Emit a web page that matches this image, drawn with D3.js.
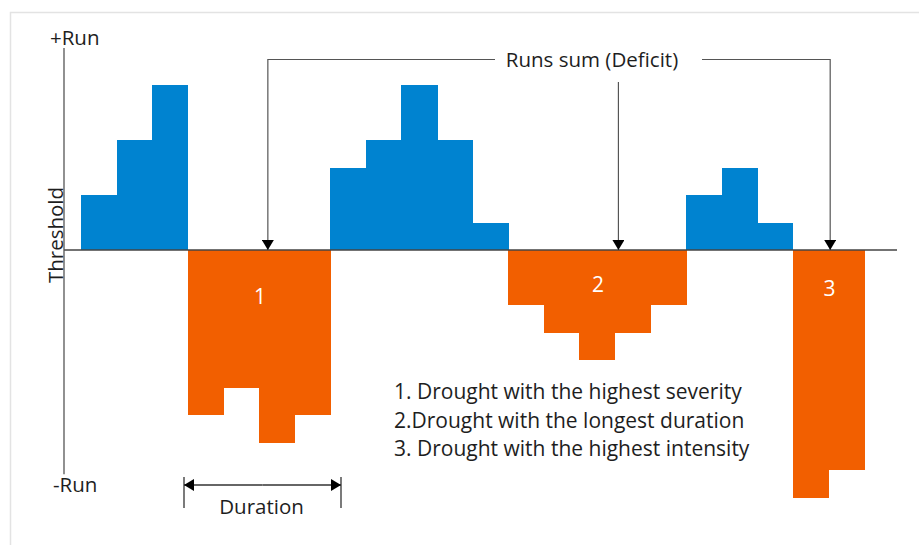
<!DOCTYPE html>
<html>
<head>
<meta charset="utf-8">
<script src="https://cdn.jsdelivr.net/npm/d3@7"></script>
<style>
  body { margin: 0; background: #fff; }
  text { font-family: "Open Sans", sans-serif; }
</style>
</head>
<body>
<script>
// run values, one per time step (in threshold units)
var values = [2, 4, 6, -6, -5, -7, -6, 3, 4, 6, 4, 1, -2, -3, -4, -3, -2, 2, 3, 1, -9, -8];
var droughtLabels = [
  {name: "1", step: 3, len: 4},
  {name: "2", step: 12, len: 5},
  {name: "3", step: 20, len: 2}
];
var notes = [
  "1. Drought with the highest severity",
  "2.Drought with the longest duration",
  "3. Drought with the highest intensity"
];

var W = 919, H = 545;
var svg = d3.select("body").append("svg")
    .attr("width", W)
    .attr("height", H);

// frame
svg.append("path")
    .attr("d", "M10.5,545 V12.5 H919")
    .attr("fill", "none")
    .attr("stroke", "#e3e3e3")
    .attr("stroke-width", 1.5);

var xScale = d3.scaleBand()
    .domain(d3.range(values.length))
    .range([81, 864])
    .padding(0);

var yScale = d3.scaleLinear()
    .domain([-9, 6])
    .range([497.5, 85]);

var blue = "#0083d0", orange = "#f25f00";
var fs = 20.5;

var defs = svg.append("defs");
defs.append("marker")
    .attr("id", "tri")
    .attr("viewBox", "0 0 10 12")
    .attr("refX", 10).attr("refY", 6)
    .attr("markerWidth", 12).attr("markerHeight", 12)
    .attr("markerUnits", "userSpaceOnUse")
    .attr("orient", "auto")
    .append("path")
    .attr("d", "M0,0 L10,6 L0,12 Z")
    .attr("fill", "#000");

// bars
svg.selectAll(".bar")
    .data(values)
    .enter()
    .append("rect")
    .attr("class", "bar")
    .attr("x", function(d, i) { return xScale(i); })
    .attr("y", function(d) { return yScale(Math.max(0, d)); })
    .attr("width", xScale.bandwidth() + 0.6)
    .attr("height", function(d) { return Math.abs(yScale(d) - yScale(0)); })
    .attr("shape-rendering", "crispEdges")
    .attr("fill", function(d) { return d > 0 ? blue : orange; });

// threshold line and y axis
svg.append("line")
    .attr("x1", 64).attr("x2", 897)
    .attr("y1", yScale(0)).attr("y2", yScale(0))
    .attr("stroke", "#444").attr("stroke-width", 1.3);
svg.append("line")
    .attr("x1", 64).attr("x2", 64)
    .attr("y1", yScale(7.35)).attr("y2", yScale(-8.15))
    .attr("stroke", "#555").attr("stroke-width", 1.3);

svg.append("text").attr("x", 50).attr("y", 45)
    .attr("font-size", fs).attr("fill", "#1e1e1e").text("+Run");
svg.append("text").attr("x", 53).attr("y", 492)
    .attr("font-size", fs).attr("fill", "#1e1e1e").text("-Run");
svg.append("text")
    .attr("transform", "translate(63," + 235 + ") rotate(-90)")
    .attr("text-anchor", "middle")
    .attr("font-size", fs).attr("fill", "#1e1e1e").text("Threshold");

// drought numbers
svg.selectAll(".num")
    .data(droughtLabels)
    .enter()
    .append("text")
    .attr("class", "num")
    .attr("x", function(d) { return xScale(d.step) + d.len * xScale.bandwidth() / 2 + 1; })
    .attr("y", function(d, i) { return [304, 292, 296][i]; })
    .attr("text-anchor", "middle")
    .attr("font-size", 21)
    .attr("fill", "#fff")
    .text(function(d) { return d.name; });

// runs sum callout
var topY = 59.5;
svg.append("text")
    .attr("x", 592).attr("y", 67)
    .attr("text-anchor", "middle")
    .attr("font-size", fs).attr("fill", "#1e1e1e")
    .text("Runs sum (Deficit)");

var bw = xScale.bandwidth();
var xs1 = xScale(3) + 2.25 * bw;
var xs2 = xScale(12) + 3.1 * bw;
var xs3 = xScale(20) + 1.05 * bw;

var callouts = [
  [[495, topY], [xs1, topY], [xs1, yScale(0)]],
  [[xs2, 82], [xs2, yScale(0)]],
  [[702, topY], [xs3, topY], [xs3, yScale(0)]]
];
svg.selectAll(".callout")
    .data(callouts)
    .enter()
    .append("path")
    .attr("class", "callout")
    .attr("d", d3.line())
    .attr("fill", "none")
    .attr("stroke", "#555")
    .attr("stroke-width", 1.2)
    .attr("marker-end", "url(#tri)");

// duration bracket
var d0 = 184, d1 = 341, dy = 485;
svg.selectAll(".tick")
    .data([d0, d1])
    .enter()
    .append("line")
    .attr("x1", function(d) { return d; })
    .attr("x2", function(d) { return d; })
    .attr("y1", 477).attr("y2", 508)
    .attr("stroke", "#333").attr("stroke-width", 1.3);
svg.append("path")
    .attr("d", d3.line()([[(d0 + d1) / 2, dy], [d1, dy]]))
    .attr("stroke", "#333").attr("stroke-width", 1.3)
    .attr("marker-end", "url(#tri)");
svg.append("path")
    .attr("d", d3.line()([[(d0 + d1) / 2, dy], [d0, dy]]))
    .attr("stroke", "#333").attr("stroke-width", 1.3)
    .attr("marker-end", "url(#tri)");
svg.append("text")
    .attr("x", (d0 + d1) / 2 - 1).attr("y", 514)
    .attr("text-anchor", "middle")
    .attr("font-size", fs).attr("fill", "#1e1e1e")
    .text("Duration");

// notes
svg.selectAll(".note")
    .data(notes)
    .enter()
    .append("text")
    .attr("class", "note")
    .attr("x", 394)
    .attr("y", function(d, i) { return 399 + i * 28.5; })
    .attr("font-size", 21)
    .attr("fill", "#1e1e1e")
    .text(function(d) { return d; });
</script>
</body>
</html>
